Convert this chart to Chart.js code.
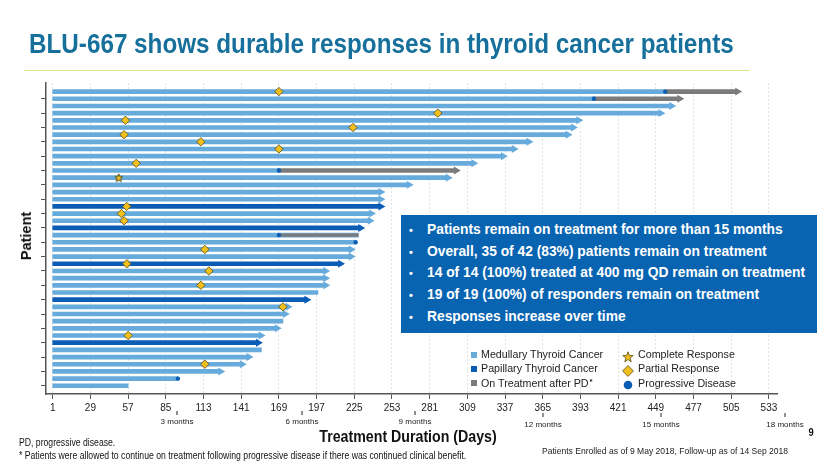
<!DOCTYPE html>
<html><head><meta charset="utf-8">
<script src="https://cdn.jsdelivr.net/npm/chart.js@4.4.1/dist/chart.umd.min.js"></script>
<style>
html,body{margin:0;padding:0;background:#fff;}
#wrap{position:relative;width:830px;height:467px;overflow:hidden;font-family:"Liberation Sans",Arial,sans-serif;}
#c{position:absolute;left:0;top:0;}
.abs{position:absolute;white-space:nowrap;}
#title{left:29px;top:27px;font-weight:bold;font-size:28px;line-height:34px;color:#16709b;transform:scaleX(0.866);transform-origin:0 0;}
#rule{left:24px;top:70px;width:726px;height:1px;background:#d6e98f;}
#ylab{left:26px;top:236px;transform:translate(-50%,-50%) rotate(-90deg);font-weight:bold;font-size:14.5px;color:#111;}
#xlab{left:408px;top:437px;transform:translate(-50%,-50%) scaleX(0.835);font-weight:bold;font-size:17px;color:#111;}
#pg{left:808px;top:426px;font-weight:bold;font-size:11px;color:#111;transform:scaleX(0.85);}
.fn{font-size:10px;color:#111;transform:scaleX(0.866);transform-origin:0 0;}
#fn1{left:19px;top:437px;}
#fn2{left:19px;top:450px;}
#enr{left:542px;top:446px;font-size:8.55px;color:#222;}
#box{left:401px;top:215px;width:416px;height:118px;background:#0864b1;color:#fff;font-weight:bold;font-size:13.8px;}
#box div{position:absolute;left:0;white-space:nowrap;}
#box .b{left:8px;font-size:11px;}
#box .t{left:26px;}
.lg{font-size:10.7px;color:#222;line-height:13px;}
.sq{position:absolute;width:6px;height:6px;}
.ast{position:relative;top:-3px;font-size:8px;font-weight:bold;margin-left:1px;}
</style></head>
<body>
<div id="wrap">
<canvas id="c" width="830" height="467"></canvas>
<div id="title" class="abs">BLU-667 shows durable responses in thyroid cancer patients</div>
<div id="rule" class="abs"></div>
<div id="ylab" class="abs">Patient</div>
<div id="xlab" class="abs">Treatment Duration (Days)</div>
<div id="pg" class="abs">9</div>
<div id="fn1" class="abs fn">PD, progressive disease.</div>
<div id="fn2" class="abs fn">* Patients were allowed to continue on treatment following progressive disease if there was continued clinical benefit.</div>
<div id="enr" class="abs">Patients Enrolled as of 9 May 2018, Follow-up as of 14 Sep 2018</div>
<div id="box" class="abs"></div>
<div id="legend"></div>
</div>
<script>
// ---------- data ----------
const patients = [1,2,3,4,5,6,7,8,9,10,11,12,13,14,15,16,17,18,19,20,21,22,23,24,25,26,27,28,29,30,31,32,33,34,35,36,37,38,39,40,41,42];
const cancerType = ['M','M','M','M','M','M','M','M','M','M','M','M','M','M','M','M','P','M','M','P','M','M','M','M','P','M','M','M','M','P','M','M','M','M','M','P','M','M','M','M','M','M'];
const durationDays = [513,470,464,456,395,391,387,358,347,339,317,304,298,269,248,248,248,241,240,233,228,226,226,226,218,207,207,207,198,193,179,177,172,171,159,157,156,150,145,129,94,57];
const onTreatment = [1,1,1,1,1,1,1,1,1,1,1,1,1,1,1,1,1,1,1,1,0,0,1,1,1,1,1,1,0,1,1,1,0,1,1,1,0,1,1,1,0,0];
const pdDay = [456,403,null,null,null,null,null,null,null,null,null,169,null,null,null,null,null,null,null,null,169,226,null,null,null,null,null,null,null,null,null,null,null,null,null,null,null,null,null,null,94,null];
const responseType = ['PR',null,null,'PR','PR','PR','PR','PR','PR',null,'PR',null,'CR',null,null,null,'PR','PR','PR',null,null,null,'PR',null,'PR','PR',null,'PR',null,null,'PR',null,null,null,'PR',null,null,null,'PR',null,null,null];
const responseDay = [169,null,null,287,55,224,54,111,169,null,63,null,50,null,null,null,56,52,54,null,null,null,114,null,56,117,null,111,null,null,172,null,null,null,57,null,null,null,114,null,null,null];
const xTickDays = [1,29,57,85,113,141,169,197,225,253,281,309,337,365,393,421,449,477,505,533];
const yTickRows = [2,4,6,8,10,12,14,16,18,20,22,24,26,28,30,32,34,36,38,40,42];
const monthDays = [93,186,270,365,453,545];
const monthLabels = ['3 months','6 months','9 months','12 months','15 months','18 months'];
const bullets = [
  'Patients remain on treatment for more than 15 months',
  'Overall, 35 of 42 (83%) patients remain on treatment',
  '14 of 14 (100%) treated at 400 mg QD remain on treatment',
  '19 of 19 (100%) of responders remain on treatment',
  'Responses increase over time'
];
const legendLeft = ['Medullary Thyroid Cancer','Papillary Thyroid Cancer','On Treatment after PD'];
const legendRight = ['Complete Response','Partial Response','Progressive Disease'];

// ---------- styles ----------
const MED = '#66abdc', PAP = '#0a5cb5', GRAY = '#7b7b7b', PDC = '#0a5cb5', GOLD = '#f2c01e', GOLDB = '#5b4a12';
const ARROW_BACK = 3.3;

const medData=[], papData=[], grayThick=[], grayThin=[], arrowPts=[], arrowCols=[], prPts=[], crPts=[], pdPts=[];
patients.forEach((p,i)=>{
  const end = durationDays[i], pd = pdDay[i], arrow = onTreatment[i]===1;
  const shaftEnd = arrow ? end - ARROW_BACK : end;
  let blueEnd = shaftEnd;
  const afterPd = pd!==null && pd<end;
  if (afterPd){
    if (arrow){ blueEnd = pd; grayThick.push({y:p,x:[pd,shaftEnd]}); }
    else grayThin.push({y:p,x:[pd,end]});
  }
  (cancerType[i]==='P'?papData:medData).push({y:p,x:[1,blueEnd]});
  if (arrow){ arrowPts.push({x:shaftEnd,y:p}); arrowCols.push(afterPd?GRAY:(cancerType[i]==='P'?PAP:MED)); }
  if (responseType[i]==='PR') prPts.push({x:responseDay[i],y:p});
  if (responseType[i]==='CR') crPts.push({x:responseDay[i],y:p});
  if (pd!==null) pdPts.push({x:pd,y:p});
});

function makeStar(size){
  const c=document.createElement('canvas'); c.width=c.height=size;
  const g=c.getContext('2d'); const cx=size/2, cy=size/2+0.4, R=size/2-0.8, r=R*0.45;
  g.beginPath();
  for(let k=0;k<10;k++){const a=-Math.PI/2+k*Math.PI/5; const rr=k%2?r:R; g.lineTo(cx+rr*Math.cos(a), cy+rr*Math.sin(a));}
  g.closePath(); g.fillStyle=GOLD; g.fill(); g.strokeStyle=GOLDB; g.lineWidth=1; g.stroke();
  return c;
}
const star = makeStar(10);

const monthPlugin = {
  id:'months',
  afterDraw(chart){
    const xs = chart.scales.x, ctx = chart.ctx;
    ctx.save();
    ctx.font = '8px "Liberation Sans", Arial, sans-serif';
    ctx.fillStyle = '#222'; ctx.textAlign='center'; ctx.textBaseline='middle';
    monthDays.forEach((d,i)=>{
      const px = Math.round(xs.getPixelForValue(d));
      const low = i>=3;
      ctx.fillRect(px-0.5, low?413:411, 1, 4);
      ctx.fillText(monthLabels[i], px, low?425:422);
    });
    ctx.restore();
  }
};

const barBase = {type:'bar', indexAxis:'y', barThickness:4, grouped:false, borderWidth:0, borderSkipped:false};
new Chart(document.getElementById('c'), {
  type:'bar',
  data:{datasets:[
    Object.assign({}, barBase, {label:'Medullary', data:medData, backgroundColor:MED, order:6}),
    Object.assign({}, barBase, {label:'Papillary', data:papData, backgroundColor:PAP, order:5}),
    Object.assign({}, barBase, {label:'After PD', data:grayThick, backgroundColor:GRAY, order:4}),
    Object.assign({}, barBase, {label:'After PD thin', data:grayThin, backgroundColor:GRAY, barThickness:2.5, order:4}),
    {type:'scatter', label:'arrows', data:arrowPts, pointStyle:'triangle', rotation:90, pointRadius:4.6, pointBackgroundColor:arrowCols, pointBorderWidth:0, order:3},
    {type:'scatter', label:'PD', data:pdPts, pointStyle:'circle', pointRadius:2.2, pointBackgroundColor:PDC, pointBorderWidth:0, order:2},
    {type:'scatter', label:'PR', data:prPts, pointStyle:'rectRot', pointRadius:4.2, pointBackgroundColor:GOLD, pointBorderColor:GOLDB, pointBorderWidth:0.8, order:1},
    {type:'scatter', label:'CR', data:crPts, pointStyle:star, order:0}
  ]},
  options:{
    responsive:false, animation:false, events:[],
    layout:{padding:{left:0, top:83, right:53, bottom:0}},
    plugins:{legend:{display:false}, tooltip:{enabled:false}},
    scales:{
      x:{type:'linear', position:'bottom', min:-4, max:539, offset:false,
        afterBuildTicks:s=>{s.ticks = xTickDays.map(v=>({value:v}));},
        afterFit:s=>{s.height = 73;},
        grid:{offset:false, color:'#e2e2e2', lineWidth:1, tickColor:'#555', tickLength:5},
        border:{color:'#555', width:1.5, dash:[2,2]},
        ticks:{font:{family:'"Liberation Sans", Arial, sans-serif', size:10}, color:'#222', padding:3, autoSkip:false, maxRotation:0}
      },
      y:{type:'linear', position:'left', min:-0.2, max:43.15, reverse:true, offset:false, beginAtZero:false,
        afterBuildTicks:s=>{s.ticks = yTickRows.map(v=>({value:v}));},
        afterFit:s=>{s.width = 46;},
        ticks:{display:false},
        grid:{offset:false, drawOnChartArea:false, tickLength:5, tickColor:'#555'},
        border:{color:'#555', width:1.5}
      }
    }
  },
  plugins:[monthPlugin]
});

// ---------- HTML text ----------
const box = document.getElementById('box');
bullets.forEach((t,i)=>{
  const top = 7 + i*21.65;
  const b = document.createElement('div'); b.className='b'; b.style.top=(top+2)+'px'; b.textContent='•'; box.appendChild(b);
  const d = document.createElement('div'); d.className='t'; d.style.top=top+'px'; d.textContent=t; box.appendChild(d);
});
const lg = document.getElementById('legend');
const sqCols = [MED, PAP, GRAY];
legendLeft.forEach((t,i)=>{
  const y = 348 + i*14.3;
  const s = document.createElement('div'); s.className='abs sq'; s.style.left='471px'; s.style.top=(y+3.5)+'px'; s.style.background=sqCols[i]; lg.appendChild(s);
  const d = document.createElement('div'); d.className='abs lg'; d.style.left='481px'; d.style.top=y+'px';
  d.innerHTML = t + (i===2?'<span class="ast">*</span>':'');
  lg.appendChild(d);
});
const icons = [
  '<svg width="12" height="12" viewBox="0 0 12 12"><polygon points="6,0.8 7.3,4.4 11.2,4.5 8.1,6.9 9.2,10.8 6,8.5 2.8,10.8 3.9,6.9 0.8,4.5 4.7,4.4" fill="'+GOLD+'" stroke="'+GOLDB+'" stroke-width="0.8"/></svg>',
  '<svg width="12" height="12" viewBox="0 0 12 12"><polygon points="6,0.6 11.4,6 6,11.4 0.6,6" fill="'+GOLD+'" stroke="'+GOLDB+'" stroke-width="0.8"/></svg>',
  '<svg width="12" height="12" viewBox="0 0 12 12"><circle cx="6" cy="6" r="4.3" fill="'+PDC+'"/></svg>'
];
legendRight.forEach((t,i)=>{
  const y = 348 + i*14.3;
  const s = document.createElement('div'); s.className='abs'; s.style.left='622px'; s.style.top=(y+0.5)+'px'; s.innerHTML=icons[i]; lg.appendChild(s);
  const d = document.createElement('div'); d.className='abs lg'; d.style.left='638px'; d.style.top=y+'px'; d.textContent=t; lg.appendChild(d);
});
</script>
</body></html>
